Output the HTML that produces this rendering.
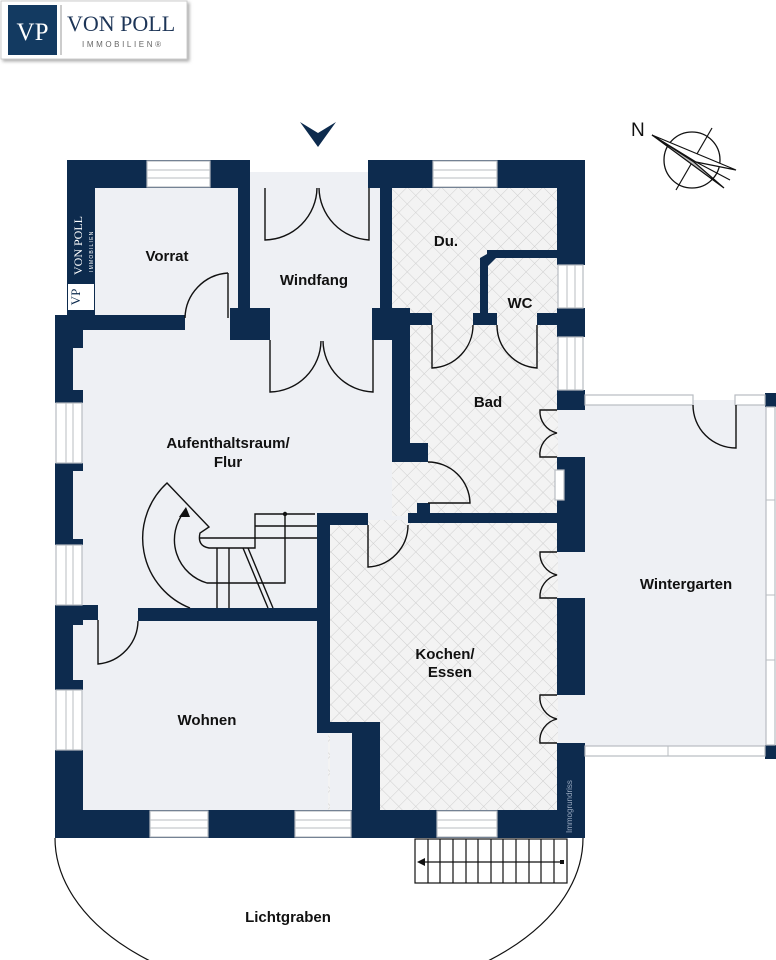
<!DOCTYPE html>
<html><head><meta charset="utf-8"><style>
html,body{margin:0;padding:0;background:#fff;}
svg{display:block;}
text{font-family:"Liberation Sans",sans-serif;}
</style></head><body>
<svg width="776" height="960" viewBox="0 0 776 960" xmlns="http://www.w3.org/2000/svg">
<defs>
<pattern id="h" width="12" height="12" patternUnits="userSpaceOnUse" patternTransform="rotate(45)">
<rect width="12" height="12" fill="#f3f3f3"/>
<path d="M0 0H12M0 0V12" stroke="#cfcfcf" stroke-width="1"/>
</pattern>
<filter id="sh"><feDropShadow dx="2" dy="2" stdDeviation="1.5" flood-color="#888" flood-opacity="0.7"/></filter>
</defs>

<!-- logo -->
<rect x="1" y="1" width="186" height="58" fill="#fff" stroke="#ccc" filter="url(#sh)"/>
<rect x="8" y="5" width="49" height="50" fill="#133a61"/>
<text x="32.5" y="40" font-size="25" fill="#fff" text-anchor="middle" style="font-family:'Liberation Serif',serif">VP</text>
<line x1="61" y1="5" x2="61" y2="55" stroke="#999" stroke-width="1"/>
<text x="67" y="31" font-size="22" fill="#1d3557" style="font-family:'Liberation Serif',serif">VON POLL</text>
<text x="82" y="47" font-size="8" fill="#666" letter-spacing="2.6">IMMOBILIEN®</text>

<!-- entrance arrow -->
<path d="M300 122 L318 133 L336 122 L318 147 Z" fill="#0d2b4e"/>

<!-- compass -->
<text x="631" y="136" font-size="19" fill="#111">N</text>
<circle cx="692" cy="160" r="28" fill="none" stroke="#111" stroke-width="1.3"/>
<line x1="676" y1="190" x2="712" y2="128" stroke="#111" stroke-width="1.2"/>
<path d="M652 135 L736 170 L696 162 Z" fill="#fff" stroke="#111" stroke-width="1.2"/>
<path d="M652 135 L724 188 L694 162 Z" fill="#bbb" stroke="#111" stroke-width="1.2"/>
<line x1="696" y1="162" x2="730" y2="180" stroke="#111" stroke-width="1.2"/>

<!-- floors -->
<g fill="#eef0f4">
<rect x="82" y="186" width="160" height="140"/>
<rect x="240" y="172" width="145" height="160"/>
<rect x="70" y="320" width="345" height="295"/>
<rect x="70" y="610" width="285" height="205"/>
<rect x="585" y="400" width="185" height="350"/>
<rect x="540" y="400" width="50" height="350"/>
</g>
<g fill="url(#h)">
<rect x="392" y="186" width="166" height="330"/>
<rect x="328" y="520" width="230" height="300"/>
</g>
<rect x="330" y="733" width="22" height="80" fill="#eef0f4"/>
<rect x="240" y="172" width="140" height="16" fill="#eef0f4"/>

<!-- walls -->
<g fill="#0d2b4e">
<rect x="67" y="160" width="171" height="28"/>
<rect x="67" y="160" width="28" height="158"/>
<rect x="238" y="160" width="12" height="160"/>
<rect x="230" y="308" width="40" height="32"/>
<rect x="55" y="315" width="130" height="15"/>
<rect x="368" y="160" width="217" height="28"/>
<rect x="380" y="160" width="12" height="160"/>
<rect x="372" y="308" width="38" height="32"/>
<rect x="392" y="313" width="40" height="12"/>
<rect x="473" y="313" width="24" height="12"/>
<rect x="537" y="313" width="22" height="12"/>
<rect x="480" y="258" width="8" height="60"/>
<path d="M480 258 L494 250 L557 250 L557 258 L496 258 L488 266 Z"/>
<rect x="487" y="250" width="70" height="8"/>
<rect x="557" y="160" width="28" height="105"/>
<rect x="557" y="308" width="28" height="29"/>
<rect x="557" y="390" width="28" height="20"/>
<rect x="557" y="457" width="28" height="95"/>
<rect x="557" y="598" width="28" height="97"/>
<rect x="557" y="743" width="28" height="95"/>
<rect x="392" y="340" width="18" height="113"/>
<rect x="392" y="443" width="36" height="19"/>
<rect x="408" y="513" width="150" height="10"/>
<rect x="417" y="503" width="13" height="20"/>
<rect x="317" y="513" width="51" height="12"/>
<rect x="317" y="513" width="13" height="220"/>
<rect x="317" y="722" width="63" height="11"/>
<rect x="352" y="722" width="28" height="116"/>
<rect x="138" y="608" width="182" height="13"/>
<rect x="55" y="605" width="43" height="15"/>
<rect x="55" y="315" width="28" height="33"/>
<rect x="55" y="348" width="18" height="42"/>
<rect x="55" y="390" width="28" height="13"/>
<rect x="55" y="463" width="28" height="8"/>
<rect x="55" y="471" width="18" height="68"/>
<rect x="55" y="539" width="28" height="6"/>
<rect x="55" y="605" width="28" height="20"/>
<rect x="55" y="625" width="18" height="55"/>
<rect x="55" y="680" width="28" height="10"/>
<rect x="55" y="750" width="28" height="88"/>
<rect x="55" y="810" width="530" height="28"/>
<rect x="765" y="393" width="11" height="14"/>
<rect x="765" y="745" width="11" height="14"/>
</g>

<!-- windows -->
<g fill="#fff" stroke="#b8bcc2" stroke-width="1.2">
<rect x="147" y="161" width="63" height="26"/>
<rect x="433" y="161" width="64" height="26"/>
<rect x="558" y="265" width="25" height="43"/>
<rect x="558" y="337" width="25" height="53"/>
<rect x="56" y="403" width="26" height="60"/>
<rect x="56" y="545" width="26" height="60"/>
<rect x="56" y="690" width="26" height="60"/>
<rect x="150" y="811" width="58" height="26"/>
<rect x="295" y="811" width="56" height="26"/>
<rect x="437" y="811" width="60" height="26"/>
<rect x="555" y="470" width="9" height="30"/>
<rect x="585" y="395" width="108" height="10"/>
<rect x="735" y="395" width="30" height="10"/>
<rect x="585" y="746" width="180" height="10"/>
<rect x="766" y="407" width="9" height="338"/>
</g>
<g stroke="#b8bcc2" stroke-width="1">
<line x1="147" y1="170" x2="210" y2="170"/><line x1="147" y1="178" x2="210" y2="178"/>
<line x1="433" y1="170" x2="497" y2="170"/><line x1="433" y1="178" x2="497" y2="178"/>
<line x1="567" y1="265" x2="567" y2="308"/><line x1="575" y1="265" x2="575" y2="308"/>
<line x1="567" y1="337" x2="567" y2="390"/><line x1="575" y1="337" x2="575" y2="390"/>
<line x1="66" y1="403" x2="66" y2="463"/><line x1="73" y1="403" x2="73" y2="463"/>
<line x1="66" y1="545" x2="66" y2="605"/><line x1="73" y1="545" x2="73" y2="605"/>
<line x1="66" y1="690" x2="66" y2="750"/><line x1="73" y1="690" x2="73" y2="750"/>
<line x1="150" y1="820" x2="208" y2="820"/><line x1="150" y1="828" x2="208" y2="828"/>
<line x1="295" y1="820" x2="351" y2="820"/><line x1="295" y1="828" x2="351" y2="828"/>
<line x1="437" y1="820" x2="497" y2="820"/><line x1="437" y1="828" x2="497" y2="828"/>
<line x1="668" y1="746" x2="668" y2="756"/>
<line x1="766" y1="500" x2="775" y2="500"/><line x1="766" y1="595" x2="775" y2="595"/>
<line x1="766" y1="660" x2="775" y2="660"/>
</g>

<rect x="68" y="284" width="26" height="26" fill="#fff"/>
<text transform="translate(80,297) rotate(-90)" font-size="13" fill="#0d2b4e" text-anchor="middle" style="font-family:'Liberation Serif',serif">VP</text>
<text transform="translate(82,275) rotate(-90)" font-size="12" fill="#fff" style="font-family:'Liberation Serif',serif">VON POLL</text>
<text transform="translate(93,272) rotate(-90)" font-size="5" fill="#fff" letter-spacing="1.2">IMMOBILIEN</text>
<text transform="translate(572,833) rotate(-90)" font-size="8" fill="#9aaac0">Immogrundriss</text>

<!-- doors -->
<g fill="none" stroke="#111" stroke-width="1.4">
<path d="M265 188 V240 A53 53 0 0 0 317 188"/>
<path d="M369 188 V240 A53 53 0 0 1 319 188"/>
<path d="M270 340 V392 A52 52 0 0 0 321 341"/>
<path d="M373 340 V392 A52 52 0 0 1 323 341"/>
<path d="M228 273 V318 M228 273 A46 46 0 0 0 185 318"/>
<path d="M432 325 V368 A43 43 0 0 0 473 325"/>
<path d="M537 325 V368 A43 43 0 0 1 497 325"/>
<path d="M428 462 A42 42 0 0 1 470 503 H428"/>
<path d="M368 525 V567 A42 42 0 0 0 408 525"/>
<path d="M98 620 V664 A44 44 0 0 0 138 621"/>
<path d="M736 405 V448 A43 43 0 0 1 693 405"/>
<path d="M557 410 H540 A22 22 0 0 0 557 433 A22 22 0 0 0 540 457 H557"/>
<path d="M557 552 H540 A22 22 0 0 0 557 575 A22 22 0 0 0 540 598 H557"/>
<path d="M557 695 H540 A22 22 0 0 0 557 719 A22 22 0 0 0 540 743 H557"/>
</g>

<!-- interior stair -->
<g fill="none" stroke="#111" stroke-width="1.4">
<path d="M190 608 A75 75 0 0 1 167 483 L209 527 L200 533 Q197 546 209 548 H255 V514 H315"/>
<line x1="200" y1="538" x2="255" y2="538"/>
<line x1="255" y1="526" x2="317" y2="526"/>
<line x1="255" y1="538" x2="317" y2="538"/>
<line x1="217" y1="548" x2="217" y2="608"/>
<line x1="229" y1="548" x2="229" y2="608"/>
<line x1="243" y1="548" x2="268" y2="608"/>
<line x1="248" y1="548" x2="273" y2="608"/>
<path d="M285 514 V583 H207 A45 45 0 0 1 184 512"/>
</g>
<circle cx="285" cy="514" r="2.2" fill="#111"/>
<path d="M186 507 L179 517 L190 517 Z" fill="#111"/>

<!-- Lichtgraben -->
<path d="M55 838 A264 160 0 0 0 583 838" fill="none" stroke="#111" stroke-width="1.2"/>
<rect x="415" y="839" width="152" height="44" fill="#fff" stroke="#111" stroke-width="1.2"/>
<g stroke="#111" stroke-width="1.2">
<line x1="428" y1="839" x2="428" y2="883"/><line x1="440" y1="839" x2="440" y2="883"/>
<line x1="453" y1="839" x2="453" y2="883"/><line x1="466" y1="839" x2="466" y2="883"/>
<line x1="478" y1="839" x2="478" y2="883"/><line x1="491" y1="839" x2="491" y2="883"/>
<line x1="503" y1="839" x2="503" y2="883"/><line x1="516" y1="839" x2="516" y2="883"/>
<line x1="529" y1="839" x2="529" y2="883"/><line x1="541" y1="839" x2="541" y2="883"/>
<line x1="554" y1="839" x2="554" y2="883"/>
<line x1="420" y1="862" x2="562" y2="862"/>
</g>
<path d="M417 862 L425 858 L425 866 Z" fill="#111"/>
<rect x="560" y="860" width="4" height="4" fill="#111"/>

<!-- labels -->
<g font-size="15" font-weight="bold" fill="#111" text-anchor="middle">
<text x="167" y="261">Vorrat</text>
<text x="314" y="285">Windfang</text>
<text x="446" y="246">Du.</text>
<text x="520" y="308">WC</text>
<text x="488" y="407">Bad</text>
<text x="228" y="448">Aufenthaltsraum/</text>
<text x="228" y="467">Flur</text>
<text x="686" y="589">Wintergarten</text>
<text x="445" y="659">Kochen/</text>
<text x="450" y="677">Essen</text>
<text x="207" y="725">Wohnen</text>
<text x="288" y="922">Lichtgraben</text>
</g>
</svg>
</body></html>
